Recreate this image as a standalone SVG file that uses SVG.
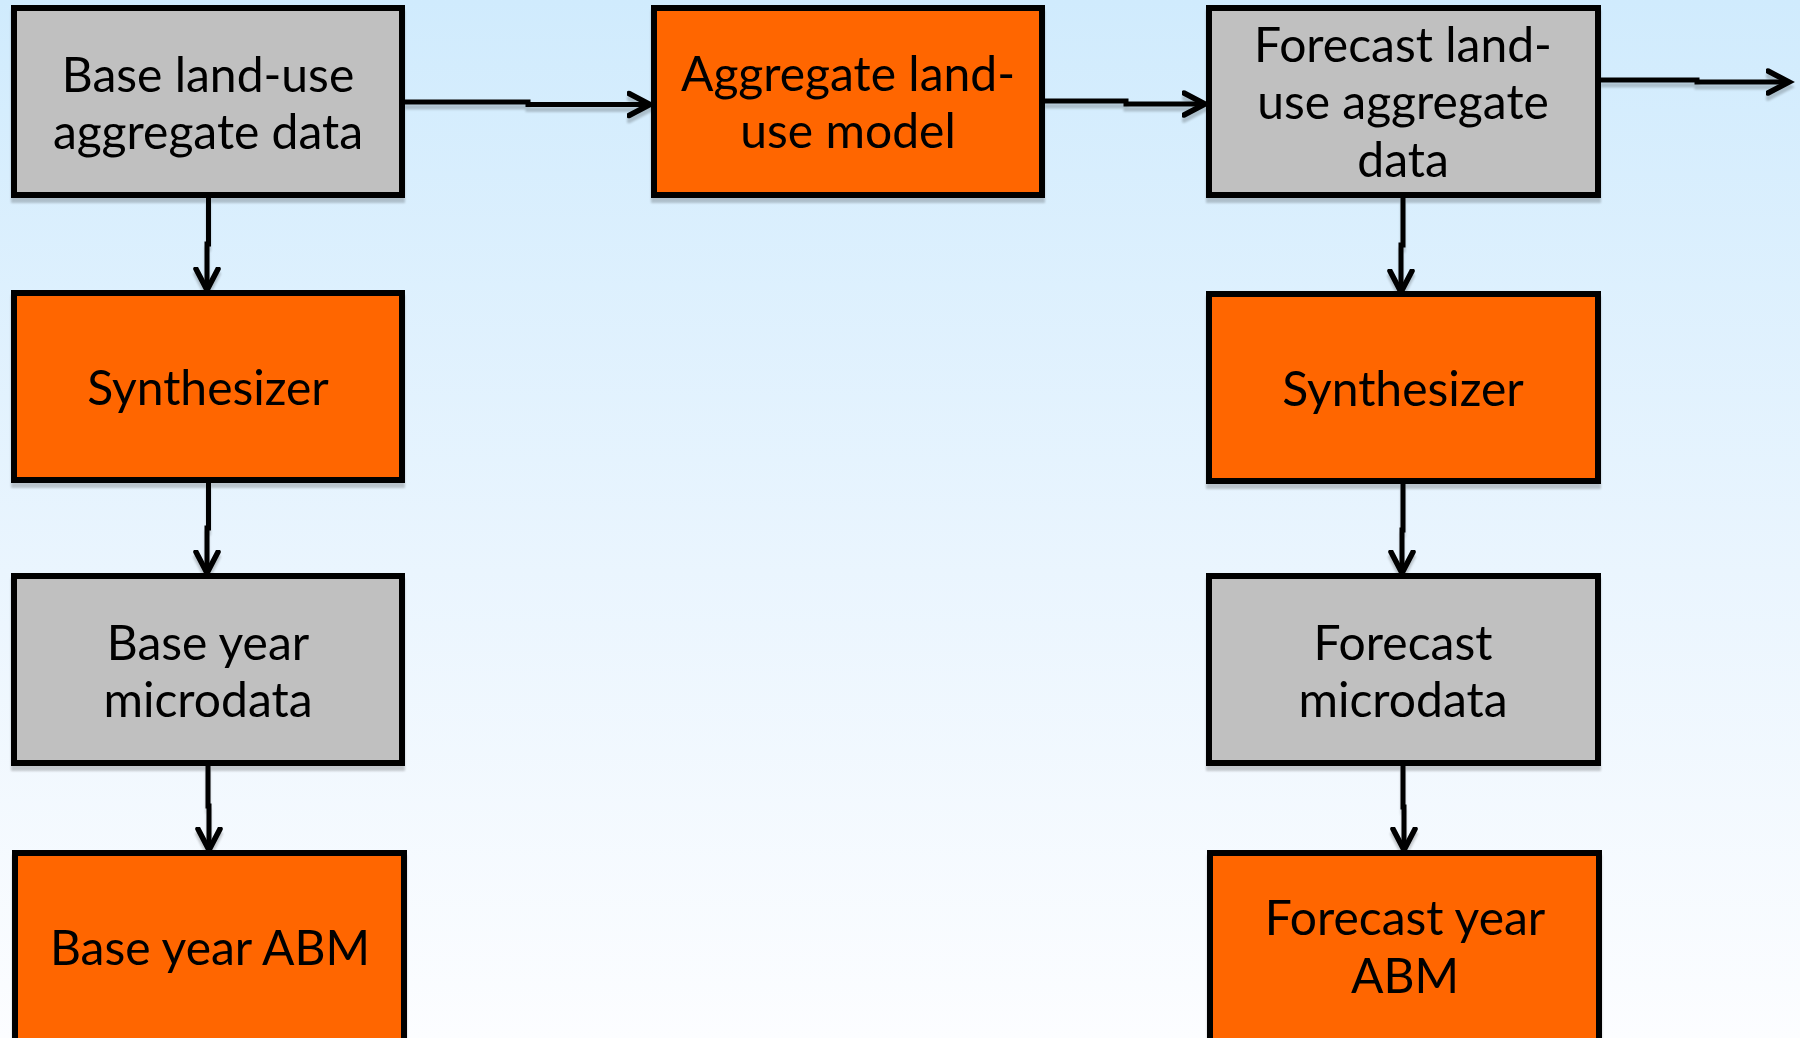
<svg xmlns="http://www.w3.org/2000/svg" width="1800" height="1038" viewBox="0 0 1800 1038">
  <defs>
    <linearGradient id="bg" x1="0" y1="0" x2="0" y2="1">
      <stop offset="0" stop-color="#d0ebfd"/>
      <stop offset="0.55" stop-color="#eaf5fe"/>
      <stop offset="1" stop-color="#fcfdff"/>
    </linearGradient>
    <filter id="shadow" x="-5%" y="-5%" width="110%" height="115%">
      <feGaussianBlur in="SourceAlpha" stdDeviation="1"/>
      <feOffset dx="0" dy="5" result="o"/>
      <feComponentTransfer><feFuncA type="linear" slope="0.2"/></feComponentTransfer>
      <feMerge><feMergeNode/><feMergeNode in="SourceGraphic"/></feMerge>
    </filter>
    <marker id="arr" viewBox="0 0 30 30" refX="23" refY="15" markerWidth="30" markerHeight="30" markerUnits="userSpaceOnUse" orient="auto">
      <path d="M2,4 L23,15 L2,26" fill="none" stroke="#000" stroke-width="5.5" stroke-linecap="round" stroke-linejoin="miter"/>
    </marker>
  </defs>
  <style>
    .box { stroke: #000; stroke-width: 6; }
    .grey { fill: #c0c0c0; }
    .orange { fill: #ff6600; }
    .lbl { font-family: Lato, "Open Sans", "DejaVu Sans", sans-serif; font-size: 48px; fill: #000; text-anchor: middle; }
    .conn { fill: none; stroke: #000; stroke-width: 5; marker-end: url(#arr); }
  </style>
  <rect x="0" y="0" width="1800" height="1038" fill="url(#bg)"/>

  <g id="connectors" filter="url(#shadow)">
    <path class="conn" d="M405,102 H528 V104.5 H650"/>
    <path class="conn" d="M1045,101 H1126 V104 H1205"/>
    <path class="conn" d="M1601,80 H1697 V82 H1789"/>
    <path class="conn" d="M208.5,198 V244 H207 V290"/>
    <path class="conn" d="M208.5,483 V528 H207 V573"/>
    <path class="conn" d="M208,766 V806 H209 V850"/>
    <path class="conn" d="M1403,198 V245 H1401 V292"/>
    <path class="conn" d="M1403,484 V530 H1402 V573"/>
    <path class="conn" d="M1403,766 V807 H1404 V850"/>
  </g>

  <g id="base-aggregate" filter="url(#shadow)">
    <rect class="box grey" x="14" y="8" width="388" height="187"/>
    <text class="lbl" x="208" y="92">Base land-use</text>
    <text class="lbl" x="208" y="149">aggregate data</text>
  </g>
  <g id="aggregate-model" filter="url(#shadow)">
    <rect class="box orange" x="654" y="8" width="388" height="187"/>
    <text class="lbl" x="848" y="91">Aggregate land-</text>
    <text class="lbl" x="848" y="148">use model</text>
  </g>
  <g id="forecast-aggregate" filter="url(#shadow)">
    <rect class="box grey" x="1209" y="8" width="389" height="187"/>
    <text class="lbl" x="1403" y="62">Forecast land-</text>
    <text class="lbl" x="1403" y="119">use aggregate</text>
    <text class="lbl" x="1403" y="177">data</text>
  </g>
  <g id="synth-base" filter="url(#shadow)">
    <rect class="box orange" x="14" y="293" width="388" height="187"/>
    <text class="lbl" x="208" y="405">Synthesizer</text>
  </g>
  <g id="synth-forecast" filter="url(#shadow)">
    <rect class="box orange" x="1209" y="294" width="389" height="187"/>
    <text class="lbl" x="1403" y="406">Synthesizer</text>
  </g>
  <g id="base-micro" filter="url(#shadow)">
    <rect class="box grey" x="14" y="576" width="388" height="187"/>
    <text class="lbl" x="208" y="660">Base year</text>
    <text class="lbl" x="208" y="717">microdata</text>
  </g>
  <g id="forecast-micro" filter="url(#shadow)">
    <rect class="box grey" x="1209" y="576" width="389" height="187"/>
    <text class="lbl" x="1403" y="660">Forecast</text>
    <text class="lbl" x="1403" y="717">microdata</text>
  </g>
  <g id="base-abm" filter="url(#shadow)">
    <rect class="box orange" x="15" y="853" width="389" height="220"/>
    <text class="lbl" x="210" y="965">Base year ABM</text>
  </g>
  <g id="forecast-abm" filter="url(#shadow)">
    <rect class="box orange" x="1210" y="853" width="389" height="220"/>
    <text class="lbl" x="1405" y="935">Forecast year</text>
    <text class="lbl" x="1405" y="993">ABM</text>
  </g>
</svg>
